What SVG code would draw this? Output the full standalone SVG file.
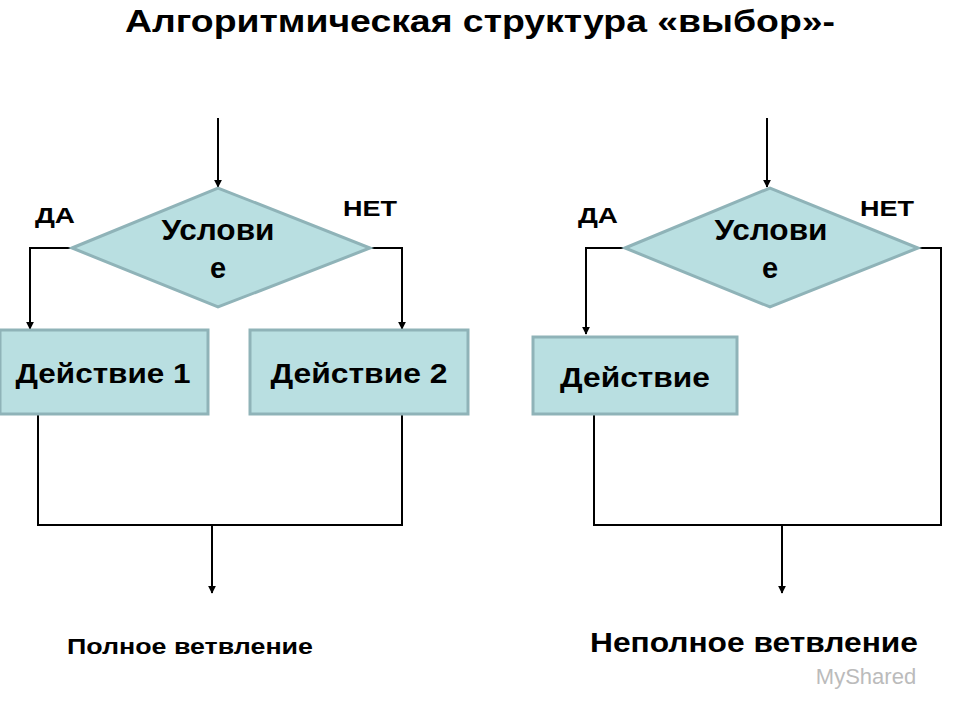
<svg xmlns="http://www.w3.org/2000/svg" width="960" height="720" viewBox="0 0 960 720">
<style>
text{font-family:"Liberation Sans",Arial,sans-serif;font-weight:bold;fill:#000;text-anchor:middle}
.n{fill:#b9dfe1;stroke:#8fb3b8;stroke-width:3}
.c{fill:none;stroke:#000;stroke-width:2}
</style>
<defs><marker id="a" viewBox="0 0 10 10" refX="9" refY="5" markerWidth="8" markerHeight="10" orient="auto" markerUnits="userSpaceOnUse"><path d="M0,0 L10,5 L0,10 z" fill="#000"/></marker></defs>
<rect width="960" height="720" fill="#fff"/>
<text x="480" y="32" font-size="31" textLength="710" lengthAdjust="spacingAndGlyphs">Алгоритмическая структура «выбор»-</text>
<g id="connectors">
<path class="c" d="M218,118 V187" marker-end="url(#a)"/>
<path class="c" d="M72,248 H30 V329" marker-end="url(#a)"/>
<path class="c" d="M370,248 H402 V329" marker-end="url(#a)"/>
<path class="c" d="M38,414 V525 H402 V414"/>
<path class="c" d="M212,525 V593" marker-end="url(#a)"/>
<path class="c" d="M767,118 V187" marker-end="url(#a)"/>
<path class="c" d="M625,248 H586 V334" marker-end="url(#a)"/>
<path class="c" d="M918,248 H941 V525 H594 V414"/>
<path class="c" d="M782,525 V593" marker-end="url(#a)"/>
</g>
<g id="cond1"><polygon class="n" points="72,248 218,188 370,248 218,307"/><text x="218" y="240" font-size="29" textLength="113" lengthAdjust="spacingAndGlyphs">Услови</text><text x="218" y="278" font-size="29">е</text></g>
<g id="act1"><rect class="n" x="0" y="330" width="208" height="84"/><text x="103" y="383" font-size="28" textLength="175" lengthAdjust="spacingAndGlyphs">Действие 1</text></g>
<g id="act2"><rect class="n" x="250" y="330" width="218" height="84"/><text x="359" y="383" font-size="28" textLength="177" lengthAdjust="spacingAndGlyphs">Действие 2</text></g>
<g id="cond2"><polygon class="n" points="625,248 770,188 918,248 770,307"/><text x="771" y="240" font-size="29" textLength="113" lengthAdjust="spacingAndGlyphs">Услови</text><text x="770" y="278" font-size="29">е</text></g>
<g id="act3"><rect class="n" x="533" y="337" width="204" height="77"/><text x="635" y="387" font-size="28" textLength="150" lengthAdjust="spacingAndGlyphs">Действие</text></g>
<g id="labels">
<text x="55" y="223" font-size="22" textLength="40" lengthAdjust="spacingAndGlyphs">ДА</text>
<text x="370" y="216" font-size="22" textLength="54" lengthAdjust="spacingAndGlyphs">НЕТ</text>
<text x="598" y="223" font-size="22" textLength="40" lengthAdjust="spacingAndGlyphs">ДА</text>
<text x="887" y="216" font-size="22" textLength="54" lengthAdjust="spacingAndGlyphs">НЕТ</text>
<text x="190" y="654" font-size="22" textLength="246" lengthAdjust="spacingAndGlyphs">Полное ветвление</text>
<text x="754" y="652" font-size="27" textLength="328" lengthAdjust="spacingAndGlyphs">Неполное ветвление</text>
<text x="866" y="684" font-size="22" style="fill:#bbb;font-weight:normal">MyShared</text>
</g>
</svg>
